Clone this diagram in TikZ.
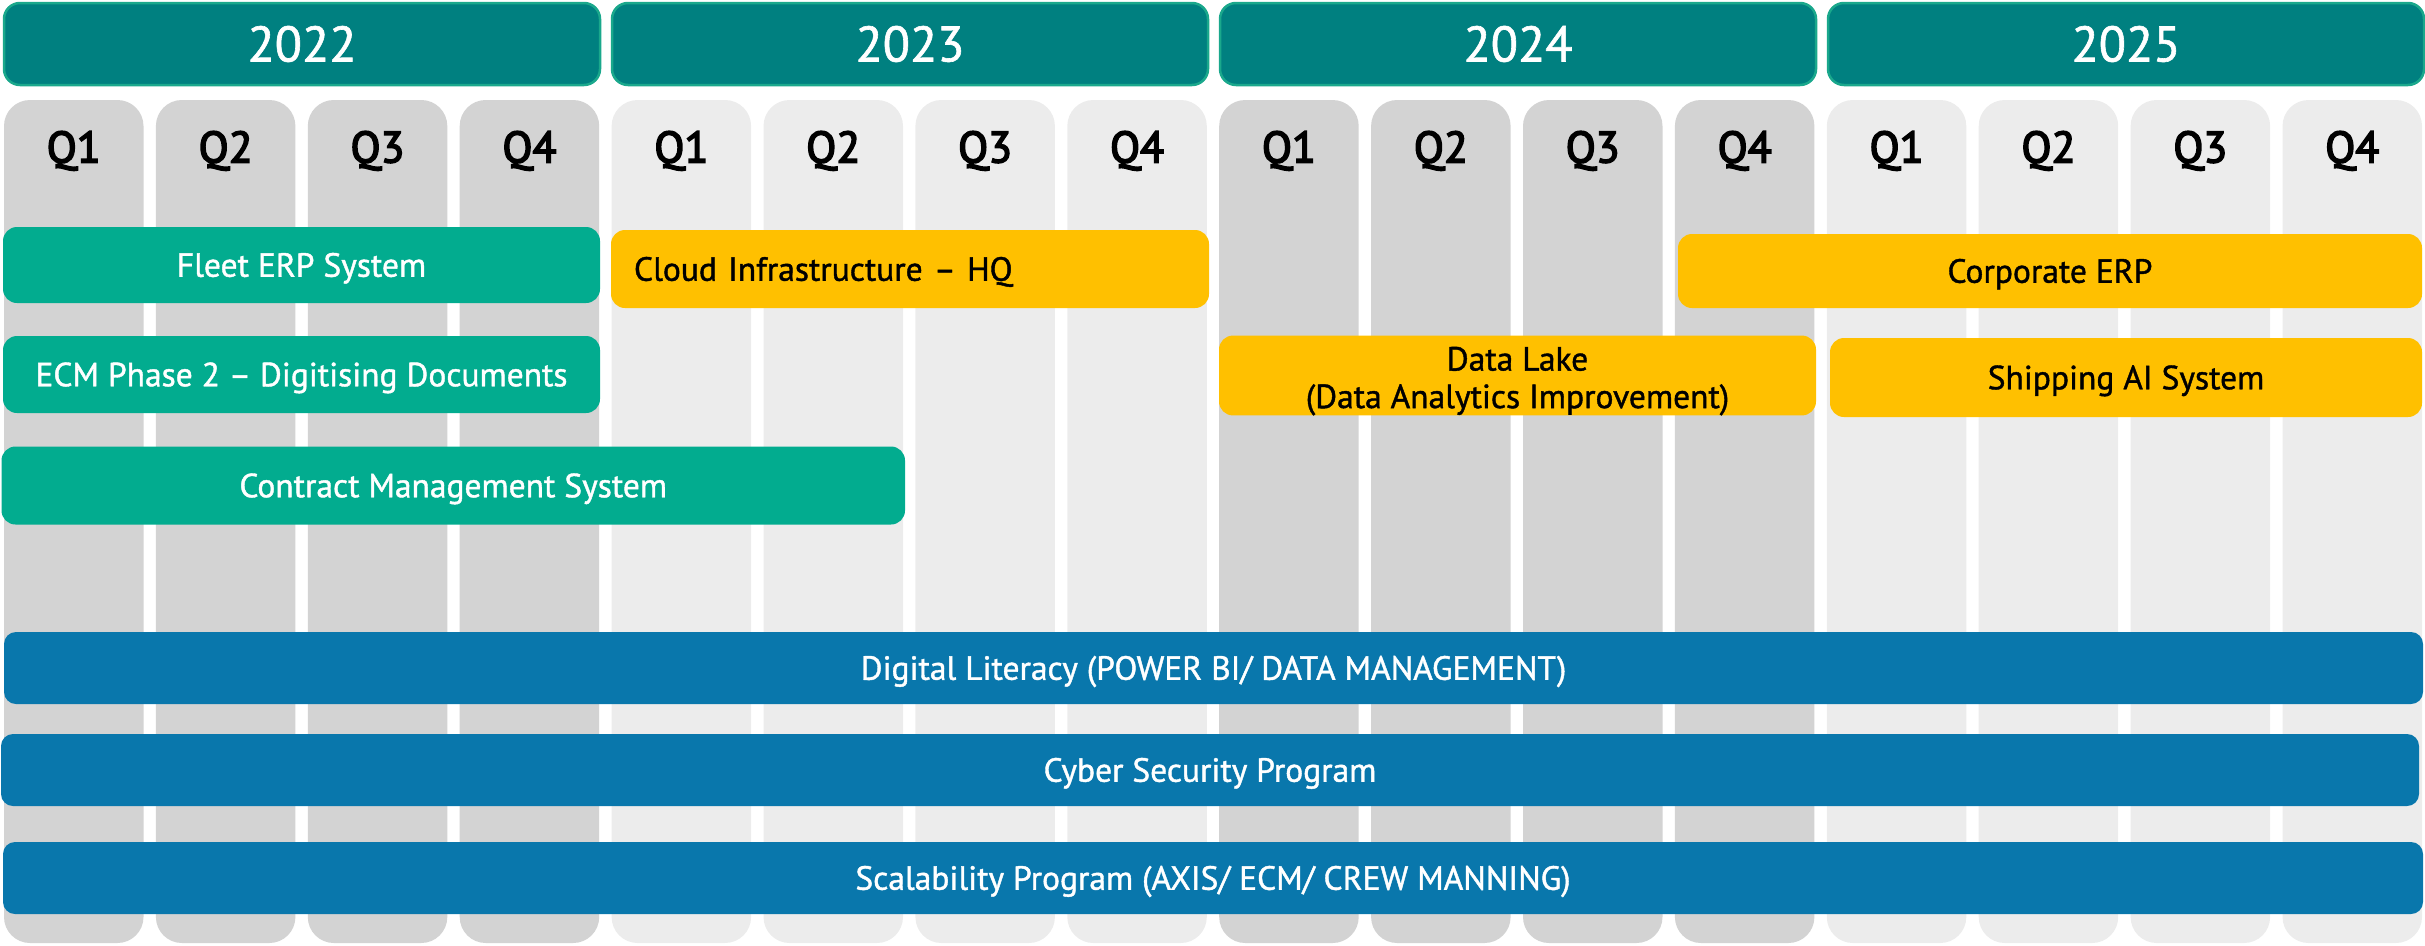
\documentclass[tikz,border=0pt]{standalone}
\usepackage{fontspec}
\setmainfont{PT Sans}
\newfontfamily\medfont[FakeBold=1.2]{PT Sans}
\newfontfamily\heavyfont[FakeBold=3.5]{PT Sans}
\definecolor{yearTeal}{HTML}{008080}
\definecolor{yearEdge}{HTML}{1AA88C}
\definecolor{colDark}{HTML}{D3D3D3}
\definecolor{colLight}{HTML}{ECECEC}
\definecolor{barGreen}{HTML}{02AC8F}
\definecolor{barYellow}{HTML}{FFC000}
\definecolor{barBlue}{HTML}{0977AC}
\begin{document}
\begin{tikzpicture}[x=1pt,y=-1pt,
  yearbox/.style={draw=yearEdge, line width=2.5pt, fill=yearTeal, rounded corners=16pt,
    text=white, inner sep=0pt, minimum width=596pt, minimum height=82pt,
    text height=35pt, text depth=0pt,
    font=\medfont\fontsize{50}{58}\selectfont},
  qlabel/.style={text=black, inner sep=0pt, text height=31pt, text depth=0pt,
    font=\heavyfont\fontsize{44}{50}\selectfont},
  bar/.style={rounded corners=14pt, inner sep=0pt, align=center,
    font=\medfont\fontsize{33.5}{37.5}\selectfont},
  oneline/.style={text height=23.5pt, text depth=0pt},
  greenbar/.style={bar, fill=barGreen, text=white},
  yellowbar/.style={bar, fill=barYellow, text=black},
  bluebar/.style={bar, fill=barBlue, text=white, rounded corners=12pt},
  size/.style 2 args={minimum width=#1pt, minimum height=#2pt}]
\useasboundingbox (0,0) rectangle (2425,945);

% quarter columns, shaded by year
\foreach \i in {0,...,15}{
  \pgfmathsetmacro\xl{4+151.9*\i}
  \pgfmathtruncatemacro\yr{div(\i,4)}
  \pgfmathtruncatemacro\qn{mod(\i,4)+1}
  \ifodd\yr \def\cc{colLight}\else\def\cc{colDark}\fi
  \fill[\cc, rounded corners=26pt] (\xl,100) rectangle ++(139.5,843);
  \node[qlabel] (q\i) at (\xl+69.75,147) {Q\qn};
}

% year headers
\node[yearbox] (y2022) at (302,44) {2022};
\node[yearbox] (y2023) at (910,44) {2023};
\node[yearbox] (y2024) at (1518,44) {2024};
\node[yearbox] (y2025) at (2126,44) {2025};

% project bars
\node[greenbar, oneline, size={597}{76}] (fleet) at (301.5,265) {Fleet ERP System};
\node[yellowbar, oneline, minimum height=78pt, text width=552pt, inner xsep=23pt, align=left]
  (cloud) at (910,269) {Cloud Infrastructure – HQ};
\node[yellowbar, oneline, size={744}{74}] (corp) at (2050,271) {Corporate ERP};
\node[greenbar, oneline, size={597}{77}] (ecm) at (301.5,374.5) {ECM Phase 2 – Digitising Documents};
\node[yellowbar, size={597}{77}] (lake) at (1517.5,375.5)
  {\rule{0pt}{35pt}Data Lake\\(Data Analytics Improvement)};
\node[yellowbar, oneline, size={592}{79}] (ship) at (2126,377.5) {Shipping AI System};
\node[greenbar, oneline, size={903.5}{78}] (contract) at (453.25,485.5) {Contract Management System};

% programme bars across all years
\node[bluebar, oneline, size={2419}{72}] (literacy) at (1213.5,668) {Digital Literacy (POWER BI/ DATA MANAGEMENT)};
\node[bluebar, oneline, size={2418}{72}] (cyber) at (1210,770) {Cyber Security Program};
\node[bluebar, oneline, size={2420}{72}] (scale) at (1213,878) {Scalability Program (AXIS/ ECM/ CREW MANNING)};
\end{tikzpicture}
\end{document}
